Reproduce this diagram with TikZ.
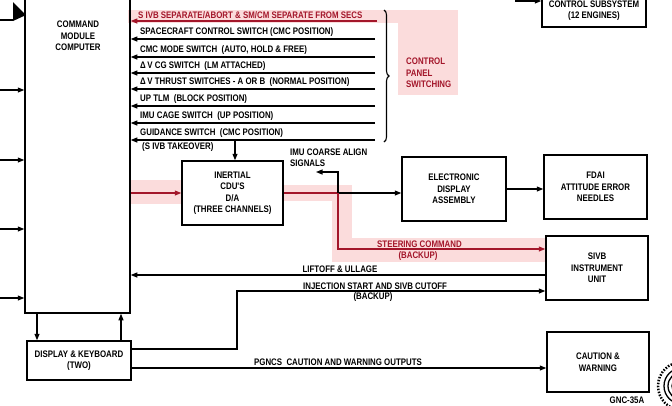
\documentclass[tikz,border=0pt]{standalone}
\usepackage{fontspec}
\setmainfont{Liberation Sans}
\newfontfamily\cfont{Liberation Sans Bold}[FakeStretch=0.83]
\newcommand\lblfont{\cfont\fontsize{9.5}{11.5}\selectfont}
\usetikzlibrary{arrows.meta,decorations.pathreplacing}
\definecolor{dred}{HTML}{A3162A}
\definecolor{hl}{HTML}{FBDCDC}
\begin{document}
\begin{tikzpicture}[x=1pt,y=-1pt,
 box/.style={draw,line width=1.5pt,align=center,font=\lblfont,inner sep=0pt},
 lbl/.style={font=\lblfont,inner sep=0pt},
 ln/.style={line width=1.1pt},
 arr/.style={ln,-{Triangle[length=6.5pt,width=5pt]}},
]
\path[use as bounding box] (0,0) rectangle (672,405);
\clip (0,0) rectangle (672,405);
\fill[white] (0,0) rectangle (672,405);
% highlights
\fill[hl] (128,10) rectangle (458,23);
\fill[hl] (398,10) rectangle (458,95);
\fill[hl] (130,180) rectangle (182,204);
\fill[hl] (283,185) rectangle (352,201);
\fill[hl] (332,185) rectangle (352,262);
\fill[hl] (332,238) rectangle (546,262);
% boxes
\node[box,minimum width=105pt,minimum height=333pt] (cmc) at (77.5,146.5) {};
\node[lbl,align=center] (cmct) at (78,36) {COMMAND\\MODULE\\COMPUTER};
\node[box,minimum width=104pt,minimum height=39pt] (dk) at (79,360.5) {DISPLAY \& KEYBOARD\\(TWO)};
\node[box,minimum width=101pt,minimum height=64pt] (cdu) at (232.5,193) {INERTIAL\\CDU'S\\D/A\\(THREE CHANNELS)};
\node[box,minimum width=104pt,minimum height=64pt] (eda) at (454,189) {ELECTRONIC\\DISPLAY\\ASSEMBLY};
\node[box,minimum width=103pt,minimum height=64pt] (fdai) at (595.5,187) {FDAI\\ATTITUDE ERROR\\NEEDLES};
\node[box,minimum width=102pt,minimum height=64pt] (iu) at (597,268) {SIVB\\INSTRUMENT\\UNIT};
\node[box,minimum width=102pt,minimum height=60pt] (cw) at (598,362) {CAUTION \&\\WARNING};
\node[box,minimum width=104pt,minimum height=47pt] (rcs) at (594,3.5) {};
\node[lbl,align=center] (rcst) at (594,10.5) {CONTROL SUBSYSTEM\\(12 ENGINES)};
% top-left arrow
\coordinate (tl0) at (0,20);
\coordinate (tl1) at (13,20);
\draw[ln] (tl0) -- (tl1);
\fill (13,2) -- (13,21) -- (26,15) -- cycle;
% left inputs
\foreach \yy/\nm in {90/la,160/lb,229/lc,298/ld}{
  \coordinate (\nm) at (0,\yy);
  \draw[arr] (\nm) -- (cmc.west |- \nm);
}
% top-right arrow
\coordinate (r0) at (515,1);
\draw[arr] (r0) -- (r0 -| rcs.west);
% control panel lines
\coordinate (c1) at (377,21);
\draw[arr,dred] (c1) -- (c1 -| cmc.east);
\node[lbl,anchor=south west,text=dred] (t1) at (138,19) {S IVB SEPARATE/ABORT \& SM/CM SEPARATE FROM SECS};
\foreach \yy/\nm/\tx in {39/c2/{SPACECRAFT CONTROL SWITCH (CMC POSITION)},
  57/c3/{CMC MODE SWITCH\ \ (AUTO, HOLD \& FREE)},
  73/c4/{Δ\,V CG SWITCH\ \ (LM ATTACHED)},
  89/c5/{Δ\,V THRUST SWITCHES - A OR B\ \ (NORMAL POSITION)},
  106/c6/{UP TLM\ \ (BLOCK POSITION)},
  123/c7/{IMU CAGE SWITCH\ \ (UP POSITION)},
  140/c8/{GUIDANCE SWITCH\ \ (CMC POSITION)}}{
  \coordinate (\nm) at (375,\yy);
  \draw[arr] (\nm) -- (\nm -| cmc.east);
  \node[lbl,anchor=south west] (t\nm) at (140,\yy-2.5) {\tx};
}
\node[lbl,anchor=north west] (tk) at (142,142.5) {(S IVB TAKEOVER)};
\coordinate (g1) at (235,140);
\draw[arr] (g1) -- (g1 |- cdu.north);
% brace
\draw[ln,decorate,decoration={brace,amplitude=5pt}] (384,10) -- (384,142);
\node[lbl,anchor=north west,align=left,text=dred] (cps) at (406,58) {CONTROL\\PANEL\\SWITCHING};
% CMC to CDU
\draw[arr,dred] (cmc.east |- cdu.west) -- (cdu.west);
\coordinate (j) at (338,193);
\draw[ln,dred] (cdu.east) -- (j);
\fill[dred] (j) circle (1.8pt);
\draw[arr] (j) -- (j -| eda.west);
\coordinate (im) at (338,172);
\coordinate (im2) at (316,172);
\draw[arr] (j) -- (im) -- (im2);
\node[lbl,anchor=west,align=left] (imt) at (290,157.5) {IMU COARSE ALIGN\\SIGNALS};
\draw[arr] (eda.east) -- (eda.east -| fdai.west);
% steering
\coordinate (s1) at (338,249);
\draw[arr,dred] (j) -- (s1) -- (s1 -| iu.west);
\node[lbl,anchor=south west,text=dred] (st1) at (377,247.5) {STEERING COMMAND};
\node[lbl,text=dred] (st2) at (418,256) {(BACKUP)};
% liftoff
\coordinate (lo) at (0,275);
\draw[arr] (iu.west |- lo) -- (cmc.east |- lo);
\node[lbl,anchor=south] (lot) at (340,273) {LIFTOFF \& ULLAGE};
% injection
\coordinate (inj1) at (237,349);
\coordinate (inj2) at (237,291);
\draw[arr] (dk.east |- inj1) -- (inj1) -- (inj2) -- (iu.west |- inj2);
\node[lbl,anchor=south west] (injt) at (303,289.5) {INJECTION START AND SIVB CUTOFF};
\node[lbl] (injb) at (373,297) {(BACKUP)};
% display keyboard links
\coordinate (k1) at (37,0);
\coordinate (k2) at (121,0);
\draw[arr] (cmc.south -| k1) -- (dk.north -| k1);
\draw[arr] (dk.north -| k2) -- (cmc.south -| k2);
% pgncs
\coordinate (pg) at (0,368);
\draw[arr] (dk.east |- pg) -- (cw.west |- pg);
\node[lbl,anchor=south] (pgt) at (338,365.5) {PGNCS\ \ CAUTION AND WARNING OUTPUTS};
% label and emblem
\node[lbl,anchor=base] (gnc) at (627,403) {GNC-35A};
\foreach \r in {6,10,14,18}{\draw[line width=1.3pt] (682,386) circle (\r pt);}
\draw[line width=2.5pt,dash pattern=on 1.5pt off 1.5pt] (682,386) circle (24pt);
\end{tikzpicture}
\end{document}
